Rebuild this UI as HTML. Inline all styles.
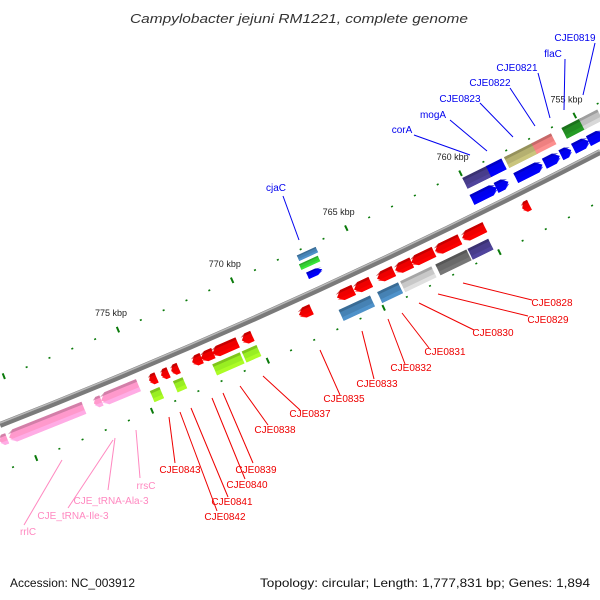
<!DOCTYPE html>
<html><head><meta charset="utf-8"><style>
html,body{margin:0;padding:0;background:#fff;}
svg{display:block;font-family:"Liberation Sans","DejaVu Sans",sans-serif;}
</style></head><body>
<svg id="map" width="600" height="600" viewBox="0 0 600 600">
<text x="130" y="23" textLength="338" lengthAdjust="spacingAndGlyphs" font-size="13" font-style="italic" fill="#333">Campylobacter jejuni RM1221, complete genome</text>
<text x="10" y="587" textLength="125" lengthAdjust="spacingAndGlyphs" font-size="12" fill="#111">Accession: NC_003912</text>
<text x="260" y="587" textLength="330" lengthAdjust="spacingAndGlyphs" font-size="12" fill="#111">Topology: circular; Length: 1,777,831 bp; Genes: 1,894</text>
<g id="layer"></g>
</svg>
<script>
// tick positions (kbp)
const tickKbp = [754,755,756,757,758,759,760,761,762,763,764,765,766,767,768,769,770,771,772,773,774,775,776,777,778,779,780,781];
const majorLabels = [755,760,765,770,775];
// features: center kbp, length kbp, lane offset px (+ above), height, color, strand
const featPos = [757.57,756.57,755.96,755.30,754.65,759.52,758.74, 757.57,756.57,755.26,754.52,759.48,758.65, 766.87,766.9,766.83,
 767.87,766.13,765.39,764.39,763.61,762.78,761.70,760.57,758.30,770.39,771.35,772.13,772.57,773.52,773.96,774.48,
 775.91,776.87,779.09,780.96, 765.96,764.52,763.30,761.78,760.61,770.48,771.48,773.57,774.57];
const featLen = [1.3,0.75,0.5,0.75,0.75,1.2,0.6, 1.4,0.95,0.95,0.9,1.2,0.75, 0.7,0.9,0.9,
 0.6,0.8,0.8,0.8,0.8,1.1,1.2,1.1,0.35,0.5,1.2,0.6,0.45,0.35,0.35,0.35,
 1.75,0.35,3.5,0.35, 1.5,1.0,1.5,1.5,1.0,0.7,1.3,0.45,0.45];
const featLane = [15,15,15,15,15,15,15, 33,33,33,33,33,33, 17,28,37,
 -15,-15,-15,-15,-15,-15,-15,-15,-15,-15,-15,-15,-15,-15,-15,-15,
 -15,-15,-15,-15, -33,-33,-33,-33,-33,-31,-31,-31,-31];
const featColor = ['#0000ee','#0000ee','#0000ee','#0000ee','#0000ee','#0000ee','#0000ee',
 '#b5b070','#ef8080','#228b22','#c0c0c0','#483d8b','#0000ee', '#0000ee','#32cd32','#4682b4',
 '#ee0000','#ee0000','#ee0000','#ee0000','#ee0000','#ee0000','#ee0000','#ee0000','#ee0000','#ee0000','#ee0000','#ee0000','#ee0000','#ee0000','#ee0000','#ee0000',
 '#ff99cc','#ff99cc','#ff99cc','#ff99cc', '#4682b4','#4682b4','#c8c8c8','#696969','#483d8b','#99ee22','#99ee22','#99ee22','#99ee22'];
const featStrand = [1,1,1,1,1,1,1, 0,0,0,0,0,0, 1,0,0,
 -1,-1,-1,-1,-1,-1,-1,-1,-1,-1,-1,-1,-1,-1,-1,-1,
 -1,-1,-1,-1, 0,0,0,0,0,0,0,0,0];
const featHeight = [11,11,11,11,11,11,11, 12,12,12,12,12,12, 7,6,6,
 11,11,11,11,11,11,11,11,11,11,11,11,11,11,11,11,
 13,11,13,11, 12,12,12,12,12,12,12,12,12];
// labels
const labelText = ['CJE0819','flaC','CJE0821','CJE0822','CJE0823','mogA','corA','cjaC',
 'CJE0828','CJE0829','CJE0830','CJE0831','CJE0832','CJE0833','CJE0835','CJE0837','CJE0838','CJE0839','CJE0840','CJE0841','CJE0842','CJE0843',
 'rrsC','CJE_tRNA-Ala-3','CJE_tRNA-Ile-3','rrlC'];
const labelXY = [[575,41],[553,57],[517,71],[490,86],[460,102],[433,118],[402,133],[276,191],
 [552,306],[548,323],[493,336],[445,355],[411,371],[377,387],[344,402],[310,417],[275,433],[256,473],[247,488],[232,505],[225,520],[180,473],
 [146,489],[111,504],[73,519],[28,535]];
const labelLine = [[595,43,583,95],[565,59,564,110],[538,73,550,118],[510,88,535,126],[480,103,513,137],[450,120,487,151],[414,135,470,155],[283,196,299,240],
 [532,300,463,283],[528,316,438,294],[474,330,419,303],[429,348,402,313],[405,364,388,319],[374,379,362,331],[340,395,320,350],[300,410,263,376],[268,425,240,386],[253,463,223,393],[245,479,212,398],[228,497,191,408],[217,511,180,412],[175,463,169,417],
 [140,478,136,430],[108,490,115,438],[68,508,113,440],[24,525,62,460]];
const labelColor = ['#0000ee','#ee0000','#ff88c0'];

const NS='http://www.w3.org/2000/svg';
const layer=document.getElementById('layer');
const P0=[0,425],P1=[300,307.5],P2=[600,152];
function xOfKbp(k){return 135+(775-k)*23;}
function pt(x){const t=x/600,u=1-t;return [x,u*u*P0[1]+2*t*u*P1[1]+t*t*P2[1]];}
function ang(x){const t=x/600;const dy=2*(1-t)*(P1[1]-P0[1])+2*t*(P2[1]-P1[1]);return Math.atan2(dy,600);}
function place(k,off){const x=xOfKbp(k);const p=pt(x);const a=ang(x);return [p[0]+off*Math.sin(a),p[1]-off*Math.cos(a),a];}
function el(tag,attrs,parent){const e=document.createElementNS(NS,tag);for(const k in attrs)e.setAttribute(k,attrs[k]);(parent||layer).appendChild(e);return e;}

// backbone
const bb=el('path',{d:'M0 425 Q300 307.5 600 152',stroke:'#7a7a7a','stroke-width':6,fill:'none'});


const bb2=el('path',{d:'M0 423 Q300 305.5 600 150',stroke:'#b8b8b8','stroke-width':1.5,fill:'none'});



// ticks
tickKbp.forEach(k=>{
  const major=(k%5===0);
  [44,-44].forEach(off=>{
    const p=place(k,off);
    const r=major?3:0.8;
    const tk=el('line',{x1:p[0]+r*Math.sin(p[2]),y1:p[1]-r*Math.cos(p[2]),x2:p[0]-r*Math.sin(p[2]),y2:p[1]+r*Math.cos(p[2]),stroke:'#0a7a0a','stroke-width':2});
    
    
  });
});
majorLabels.forEach(k=>{
  const p=place(k,62);
  const t=el('text',{x:p[0],y:p[1]+3,'text-anchor':'middle','font-size':9,fill:'#222'});
  t.textContent=k+' kbp';
  
  
});

function shade(c,f){const n=parseInt(c.slice(1),16);let r=n>>16,g=(n>>8)&255,b=n&255;r=Math.round(r*f);g=Math.round(g*f);b=Math.round(b*f);return 'rgb('+Math.min(255,r)+','+Math.min(255,g)+','+Math.min(255,b)+')';}

featPos.forEach((k,i)=>{
  const p=place(k,featLane[i]);
  const L=featLen[i]*23,h=featHeight[i],s=featStrand[i];
  const g=el('g',{transform:'translate('+p[0]+','+p[1]+') rotate('+(p[2]*180/Math.PI)+')'});
  
  
  const hl=L/2,hh=h/2,tip=Math.min(6,L*0.45);
  let pts;
  if(s===1) pts=[[-hl,-hh],[hl-tip,-hh],[hl,0],[hl-tip,hh],[-hl,hh]];
  else if(s===-1) pts=[[hl,-hh],[-hl+tip,-hh],[-hl,0],[-hl+tip,hh],[hl,hh]];
  else pts=[[-hl,-hh],[hl,-hh],[hl,hh],[-hl,hh]];
  el('polygon',{points:pts.map(q=>q.join(',')).join(' '),fill:featColor[i]},g);
  el('polygon',{points:pts.map(q=>[q[0],Math.max(q[1],hh*0.35)].join(',')).join(' '),fill:shade(featColor[i],1.15),opacity:0.8},g);
  el('polygon',{points:pts.map(q=>[q[0],Math.min(q[1],-hh*0.55)].join(',')).join(' '),fill:shade(featColor[i],0.75),opacity:0.7},g);
});

labelText.forEach((s,i)=>{
  const c=i<8?labelColor[0]:(i<22?labelColor[1]:labelColor[2]);
  const ln=labelLine[i];
  const l=el('line',{x1:ln[0],y1:ln[1],x2:ln[2],y2:ln[3],stroke:c,'stroke-width':1});
  
  
  const t=el('text',{x:labelXY[i][0],y:labelXY[i][1],'text-anchor':'middle','font-size':10,fill:c});
  t.textContent=s;
  
  
});
</script>
</body></html>
